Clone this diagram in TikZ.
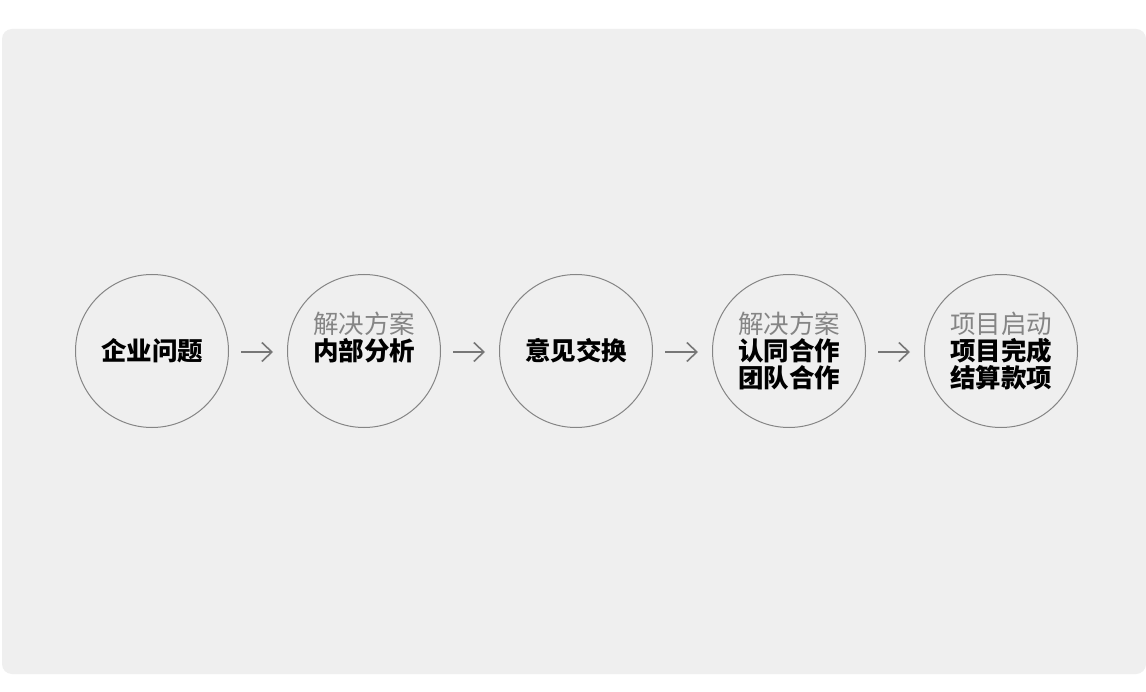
\documentclass[tikz,border=0pt]{standalone}
\usepackage{fontspec}
\newfontfamily\cjk{Noto Sans CJK SC}
\usetikzlibrary{arrows.meta}
\definecolor{bgpanel}{HTML}{EFEFEF}
\definecolor{ringc}{HTML}{858585}
\definecolor{subc}{HTML}{858585}
\definecolor{arrc}{HTML}{777777}
\tikzset{
  ring/.style={circle, draw=ringc, line width=1pt, minimum size=153pt, inner sep=0pt},
  maintxt/.style={font=\cjk\bfseries\fontsize{25.5}{27}\selectfont, text=black, align=center, inner sep=0pt},
  arr/.style={draw=arrc, line width=1.6pt, -{Straight Barb[length=10pt,width=19pt,line width=1.6pt]}},
}
\newcommand{\subtxt}[1]{{\color{subc}\mdseries #1}}
\begin{document}
\begin{tikzpicture}[x=1pt,y=-1pt]
\useasboundingbox (0,0) rectangle (1146,692);
\fill[white] (0,0) rectangle (1146,692);
\fill[bgpanel, rounded corners=10pt] (2,29) rectangle (1146,674);
\node[ring] (c1) at (152,351) {};
\node[ring] (c2) at (364,351) {};
\node[ring] (c3) at (576,351) {};
\node[ring] (c4) at (789,351) {};
\node[ring] (c5) at (1001,351) {};
\node[maintxt] (t1) at (c1.center) {企业问题};
\node[maintxt] (t2) at ([yshift=13.5pt]c2.center) {\subtxt{解决方案}\\内部分析};
\node[maintxt] (t3) at (c3.center) {意见交换};
\node[maintxt] (t4) at (c4.center) {\subtxt{解决方案}\\认同合作\\团队合作};
\node[maintxt] (t5) at (c5.center) {\subtxt{项目启动}\\项目完成\\结算款项};
\draw[arr] ([xshift=12pt,yshift=-1pt]c1.east) -- ([xshift=-14pt,yshift=-1pt]c2.west);
\draw[arr] ([xshift=12pt,yshift=-1pt]c2.east) -- ([xshift=-14pt,yshift=-1pt]c3.west);
\draw[arr] ([xshift=12pt,yshift=-1pt]c3.east) -- ([xshift=-14pt,yshift=-1pt]c4.west);
\draw[arr] ([xshift=12pt,yshift=-1pt]c4.east) -- ([xshift=-14pt,yshift=-1pt]c5.west);
\end{tikzpicture}
\end{document}
